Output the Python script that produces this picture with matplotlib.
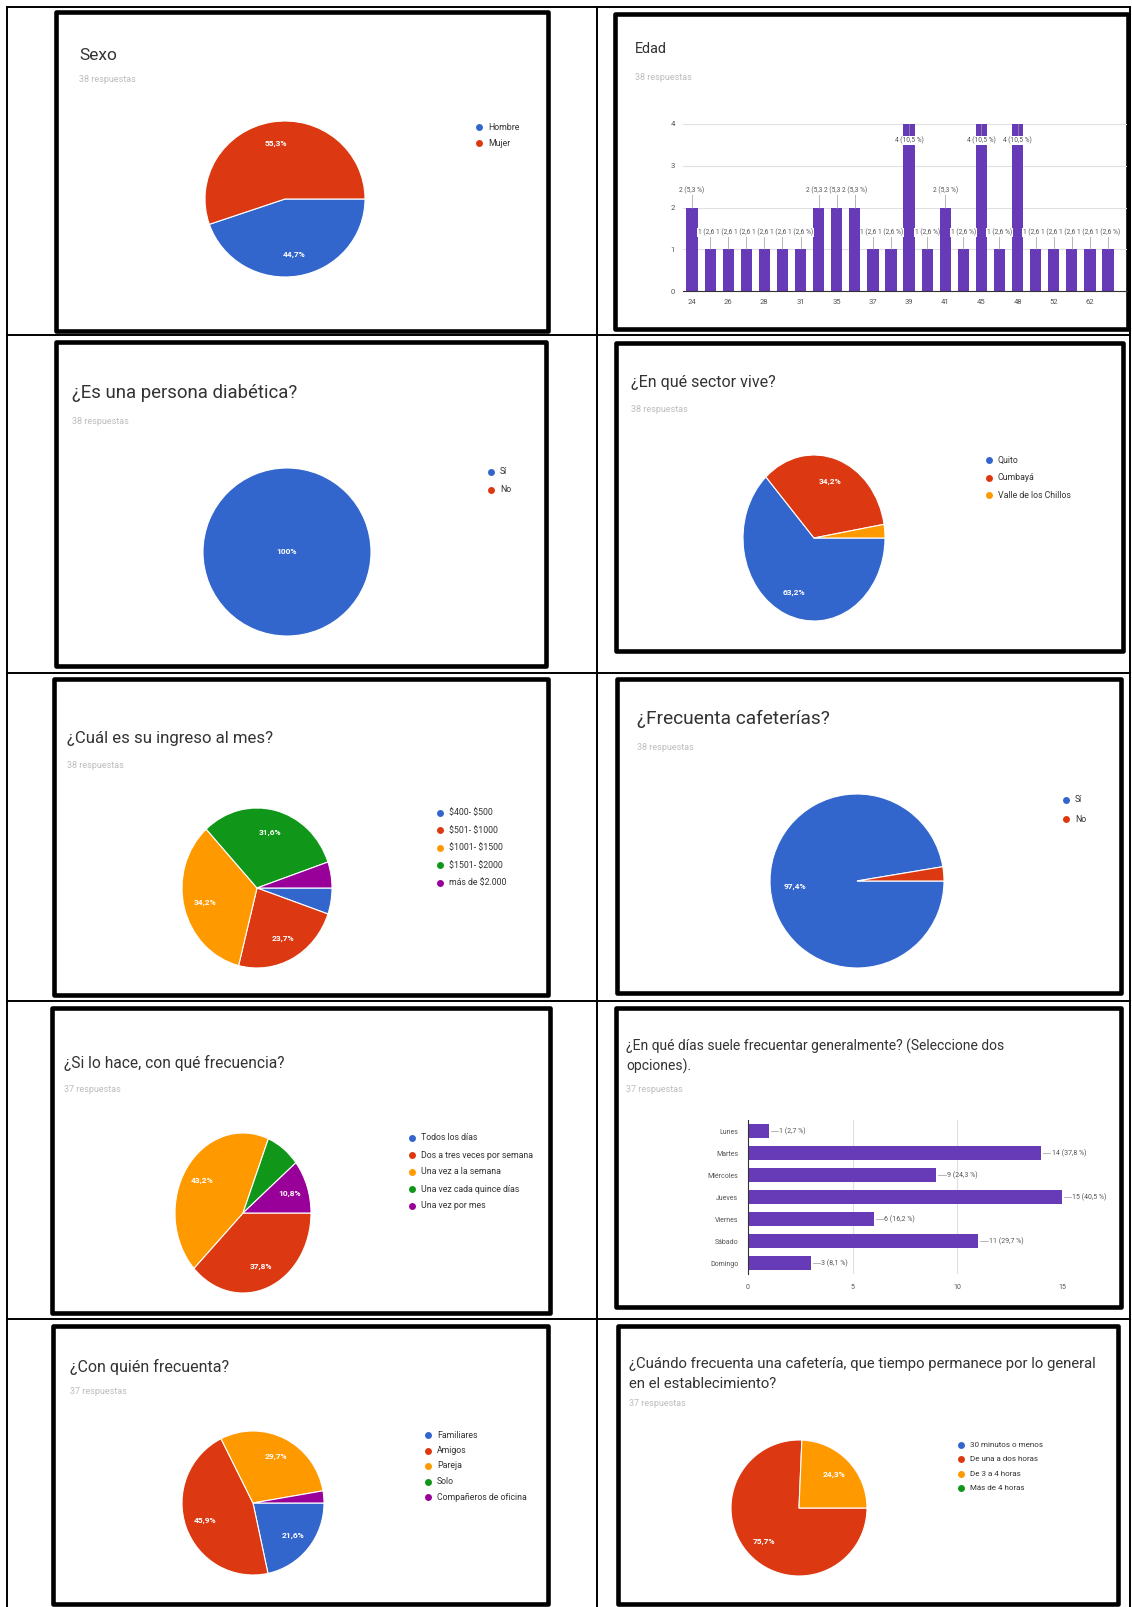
import numpy as np
import matplotlib.pyplot as plt
from matplotlib.patches import Rectangle

plt.rcParams['font.family'] = ['Roboto', 'DejaVu Sans']

W, H = 1132, 1607

# Colores de Google Forms
AZUL, ROJO, NARANJA, VERDE, MORADO = '#3366cc', '#dc3912', '#ff9900', '#109618', '#990099'
BARRA = '#673ab7'
colores = [AZUL, ROJO, NARANJA, VERDE, MORADO]

# Datos de la encuesta
sexo_cat = ['Hombre', 'Mujer']
sexo_n = [17, 21]

edad_cat = [24, 25, 26, 27, 28, 30, 31, 33, 35, 36, 37, 38,
            39, 40, 41, 43, 45, 46, 48, 50, 52, 55, 62, 65]
edad_n = [2, 1, 1, 1, 1, 1, 1, 2, 2, 2, 1, 1,
          4, 1, 2, 1, 4, 1, 4, 1, 1, 1, 1, 1]

diab_cat = ['Sí', 'No']
diab_n = [38, 0]

sector_cat = ['Quito', 'Cumbayá', 'Valle de los Chillos']
sector_n = [24, 13, 1]

ingreso_cat = ['$400- $500', '$501- $1000', '$1001- $1500', '$1501- $2000', 'más de $2.000']
ingreso_n = [2, 9, 13, 12, 2]

cafe_cat = ['Sí', 'No']
cafe_n = [37, 1]

frec_cat = ['Todos los días', 'Dos a tres veces por semana', 'Una vez a la semana',
            'Una vez cada quince días', 'Una vez por mes']
frec_n = [0, 14, 16, 3, 4]

dias_cat = ['Lunes', 'Martes', 'Miércoles', 'Jueves', 'Viernes', 'Sábado', 'Domingo']
dias_n = [1, 14, 9, 15, 6, 11, 3]

quien_cat = ['Familiares', 'Amigos', 'Pareja', 'Solo', 'Compañeros de oficina']
quien_n = [8, 17, 11, 0, 1]

tiempo_cat = ['30 minutos o menos', 'De una a dos horas', 'De 3 a 4 horas', 'Más de 4 horas']
tiempo_n = [0, 28, 9, 0]

fig = plt.figure(figsize=(W / 100, H / 100), dpi=100)
fig.patch.set_facecolor('white')
renderer = fig.canvas.get_renderer()

# lienzo base en pixeles (origen arriba a la izquierda)
base = fig.add_axes([0, 0, 1, 1])
base.set_xlim(0, W)
base.set_ylim(H, 0)
base.axis('off')


def eje(x0, y0, x1, y1):
    return fig.add_axes([x0 / W, 1 - y1 / H, (x1 - x0) / W, (y1 - y0) / H])


def pct(v, total):
    p = v / total * 100
    if round(p, 1) == 100:
        return '100%'
    return f'{p:.1f}%'.replace('.', ',')


# tabla
for x in [7, 597, 1130]:
    base.plot([x, x], [7, H], color='black', lw=1.4)
for y in [7, 335, 673, 1001, 1319]:
    base.plot([7, 1130], [y, y], color='black', lw=1.4)

# marcos gruesos de cada grafico
marcos = [(56, 12, 548, 331), (615, 14, 1128, 329),
          (56, 342, 546, 666), (616, 343, 1123, 651),
          (54, 679, 548, 995), (617, 679, 1121, 993),
          (52, 1008, 550, 1313), (616, 1008, 1121, 1307),
          (53, 1326, 548, 1604), (618, 1326, 1118, 1604)]
for x0, y0, x1, y1 in marcos:
    base.add_patch(Rectangle((x0, y0), x1 - x0, y1 - y0, fill=True, fc='white',
                             ec='black', lw=3.3, joinstyle='round'))


def titulo(x, y, lineas, ancho, sub_y, sub):
    t = base.text(x, y, lineas[0], fontsize=12, color='#333333', va='center', ha='left')
    w = t.get_window_extent(renderer).width
    fs = 12 * ancho / w
    t.set_fontsize(fs)
    for k, s in enumerate(lineas[1:], 1):
        base.text(x, y + k * 20, s, fontsize=fs, color='#333333', va='center', ha='left')
    base.text(x, sub_y, sub, fontsize=6.5, color='#bdbdbd', va='center', ha='left')


def leyenda(x, y, paso, cats, fs=6.3):
    for k, c in enumerate(cats):
        yy = y + k * paso
        base.plot([x], [yy], marker='o', ms=5, color=colores[k], mec='none')
        base.text(x + 9, yy, c, fontsize=fs, color='#333333', va='center', ha='left',
                  parse_math=False)


def pastel(cx, cy, rx, ry, valores):
    ax = eje(cx - rx, cy - ry, cx + rx, cy + ry)
    total = sum(valores)
    idx = [i for i, v in enumerate(valores) if v > 0]
    cunas, _ = ax.pie([valores[i] for i in idx], colors=[colores[i] for i in idx],
                      startangle=0, counterclock=False, radius=1,
                      wedgeprops=dict(edgecolor='white', linewidth=0.8))
    ax.set_aspect('auto')
    ax.set_xlim(-1, 1)
    ax.set_ylim(-1, 1)
    ax.axis('off')
    for c, i in zip(cunas, idx):
        p = valores[i] / total
        if p < 0.1:
            continue
        if p == 1:
            x, y = 0, 0
        else:
            a = np.deg2rad((c.theta1 + c.theta2) / 2)
            x, y = 0.72 * np.cos(a), 0.72 * np.sin(a)
        ax.text(x, y, pct(valores[i], total), color='white', fontsize=6,
                fontweight='bold', ha='center', va='center')
    return ax


# 1. Sexo
titulo(79, 56, ['Sexo'], 38, 80, '38 respuestas')
pastel(285, 199, 80, 78, sexo_n)
leyenda(479, 127, 16, sexo_cat)

# 2. Edad
titulo(635, 49, ['Edad'], 32, 77, '38 respuestas')
ax = eje(683, 124, 1127, 291)
xs = np.arange(len(edad_n))
ax.bar(xs, edad_n, width=0.62, color=BARRA, zorder=2)
ax.set_xlim(-0.5, 24.05)
ax.set_ylim(0, 4)
ax.set_yticks([0, 1, 2, 3, 4])
ax.set_xticks(xs[::2])
ax.set_xticklabels([str(a) for a in edad_cat[::2]])
ax.grid(axis='y', color='#e0e0e0', lw=0.8, zorder=0)
for s in ['top', 'right', 'left']:
    ax.spines[s].set_visible(False)
ax.spines['bottom'].set_color('#333333')
ax.spines['bottom'].set_linewidth(0.8)
ax.tick_params(length=0, labelsize=5.5, colors='#555555', pad=6)
ax.set_facecolor('none')
for i, n in enumerate(edad_n):
    yl = n + 0.4 if n < 4 else n - 0.4
    ax.plot([i, i], [n, yl], color='#999999', lw=0.5, zorder=3)
    ax.text(i, yl, f'{n} ({pct(n, sum(edad_n))[:-1]} %)', fontsize=4.8, color='#555555',
            ha='center', va='center', zorder=4,
            bbox=dict(boxstyle='square,pad=0.1', fc='white', ec='none'))

# 3. Diabética
titulo(72, 393, ['¿Es una persona diabética?'], 226, 421, '38 respuestas')
pastel(287, 552, 84, 84, diab_n)
leyenda(491, 472, 18, diab_cat)

# 4. Sector
titulo(631, 382, ['¿En qué sector vive?'], 144, 409, '38 respuestas')
pastel(814, 538, 71, 83, sector_n)
leyenda(989, 460, 17.5, sector_cat)

# 5. Ingreso
titulo(67, 738, ['¿Cuál es su ingreso al mes?'], 206, 765, '38 respuestas')
pastel(257, 888, 75, 80, ingreso_n)
leyenda(440, 813, 17.4, ingreso_cat)

# 6. Cafeterías
titulo(637, 719, ['¿Frecuenta cafeterías?'], 193, 748, '38 respuestas')
pastel(857, 881, 87, 87, cafe_n)
leyenda(1066, 800, 19, cafe_cat)

# 7. Frecuencia
titulo(64, 1063, ['¿Si lo hace, con qué frecuencia?'], 220, 1089, '37 respuestas')
pastel(243, 1213, 68, 80, frec_n)
leyenda(412, 1138, 17, frec_cat)

# 8. Días
titulo(626, 1046, ['¿En qué días suele frecuentar generalmente? (Seleccione dos',
                   'opciones).'], 379, 1089, '37 respuestas')
ax = eje(748, 1120, 1062, 1274)
ys = np.arange(len(dias_n))
ax.barh(ys, dias_n, height=0.6, color=BARRA, zorder=2)
ax.set_xlim(0, 15)
ax.set_ylim(6.5, -0.5)
ax.set_yticks(ys)
ax.set_yticklabels(dias_cat)
ax.set_xticks([0, 5, 10, 15])
ax.grid(axis='x', color='#e0e0e0', lw=0.8, zorder=0)
for s in ['top', 'right', 'bottom']:
    ax.spines[s].set_visible(False)
ax.spines['left'].set_color('#333333')
ax.spines['left'].set_linewidth(0.8)
ax.tick_params(length=0, labelsize=5, colors='#555555', pad=7)
ax.set_facecolor('none')
for j, v in enumerate(dias_n):
    ax.plot([v + 0.1, v + 0.45], [j, j], color='#999999', lw=0.5, clip_on=False)
    ax.text(v + 0.5, j, f'{v} ({pct(v, 37)[:-1]} %)', fontsize=5, color='#555555',
            ha='left', va='center', clip_on=False)

# 9. Con quién
titulo(70, 1367, ['¿Con quién frecuenta?'], 158, 1392, '37 respuestas')
pastel(253, 1503, 71, 72, quien_n)
leyenda(428, 1435, 15.5, quien_cat)

# 10. Tiempo de permanencia
titulo(629, 1364, ['¿Cuándo frecuenta una cafetería, que tiempo permanece por lo general',
                   'en el establecimiento?'], 468, 1404, '37 respuestas')
pastel(799, 1508, 68, 68, tiempo_n)
leyenda(961, 1445, 14.3, tiempo_cat, fs=5.8)

fig.savefig('out.png', dpi=100)
